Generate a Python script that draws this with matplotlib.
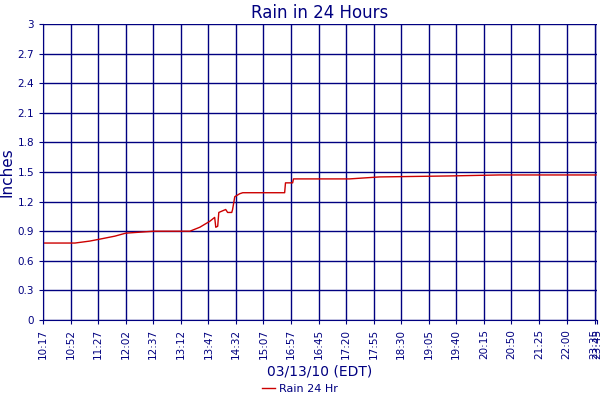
import matplotlib
matplotlib.use("Agg")
from matplotlib import pyplot as plt

# x is sample position (tick index units), y is rain in inches
rain_x = [0, 1.16, 1.70, 2.07, 2.61, 3.0, 3.51, 4.02, 5.33, 5.69, 6.05, 6.23, 6.27, 6.34,
          6.38, 6.63, 6.70, 6.85, 6.88, 6.96, 7.14, 7.25, 8.77, 8.80, 9.06, 9.09, 11.12,
          12.21, 14.75, 16.56, 20.07]
rain_y = [0.78, 0.78, 0.80, 0.82, 0.85, 0.88, 0.89, 0.90, 0.90, 0.94, 1.00, 1.04, 0.94, 0.95,
          1.09, 1.12, 1.09, 1.09, 1.12, 1.25, 1.28, 1.29, 1.29, 1.39, 1.39, 1.43, 1.43,
          1.45, 1.46, 1.47, 1.47]

tick_labels = ["10:17", "10:52", "11:27", "12:02", "12:37", "13:12", "13:47", "14:32",
               "15:07", "16:57", "16:45", "17:20", "17:55", "18:30", "19:05", "19:40",
               "20:15", "20:50", "21:25", "22:00", "23:35", "23:45"]
tick_pos = list(range(20)) + [20.02, 20.1]

navy = "#000080"
fig = plt.figure(figsize=(6, 4), dpi=100)
ax = fig.add_axes([0.0717, 0.2, 0.923, 0.74])

ax.plot(rain_x, rain_y, color="#cc0000", lw=1.0, label="Rain 24 Hr")

ax.set_xlim(0, 20.1)
ax.set_ylim(0, 3)
ax.set_yticks([i * 0.3 for i in range(11)])
ax.set_yticklabels(["0", "0.3", "0.6", "0.9", "1.2", "1.5", "1.8", "2.1", "2.4", "2.7", "3"])
ax.set_xticks(tick_pos)
ax.set_xticklabels(tick_labels, rotation=90)
ax.tick_params(colors=navy, labelsize=7.5, length=3)
ax.grid(True, color=navy, lw=1)
for s in ax.spines.values():
    s.set_visible(False)
ax.spines["left"].set_visible(True)
ax.spines["left"].set_color(navy)
ax.spines["bottom"].set_visible(True)
ax.spines["bottom"].set_color(navy)

ax.set_title("Rain in 24 Hours", color=navy, fontsize=12, pad=4)
ax.set_ylabel("Inches", color=navy, fontsize=11)
ax.yaxis.set_label_coords(-0.052, 0.5)
ax.set_xlabel("03/13/10 (EDT)", color=navy, fontsize=10, labelpad=4)
leg = fig.legend(loc="lower center", bbox_to_anchor=(0.5, -0.01), frameon=False,
                 fontsize=8, handlelength=1.2, handletextpad=0.4)
for t in leg.get_texts():
    t.set_color(navy)

fig.savefig("out.png")
